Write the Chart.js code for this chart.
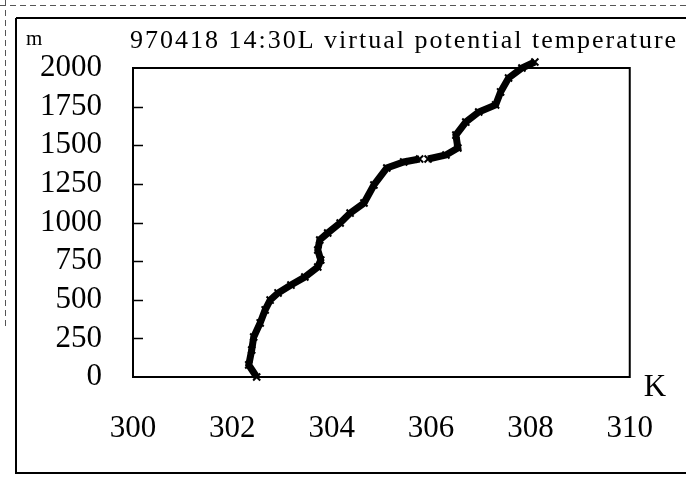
<!DOCTYPE html>
<html>
<head>
<meta charset="utf-8">
<script src="https://cdn.jsdelivr.net/npm/chart.js@4/dist/chart.umd.min.js"></script>
<style>
  html, body { margin: 0; padding: 0; background: #fff; }
  #wrap { position: relative; width: 686px; height: 482px; }
  canvas { display: block; }
</style>
</head>
<body>
<div id="wrap"><canvas id="c" width="686" height="482"></canvas></div>
<script>
// ---- data ----
const titleText = "970418 14:30L virtual potential temperature";
const yUnit = "m";
const xUnit = "K";
const xTicks = [300, 302, 304, 306, 308, 310];
const yTicks = [0, 250, 500, 750, 1000, 1250, 1500, 1750, 2000];
// virtual potential temperature (K); null marks the small gap in the trace
const thetaV = [302.49, 302.33, 302.39, 302.43, 302.56, 302.66, 302.76, 302.92, 303.18, 303.46,
                303.72, 303.78, 303.72, 303.76, 303.92, 304.17, 304.37, 304.65, 304.85, 305.11,
                305.45, 305.77, null, 305.94, 306.30, 306.54, 306.50, 306.70, 306.96, 307.30,
                307.40, 307.56, 307.83, 308.09];
// height (m)
const heightM = [0, 78, 175, 259, 350, 434, 498, 544, 595, 647,
                 712, 757, 822, 887, 932, 997, 1061, 1126, 1243, 1353,
                 1392, 1411, null, 1411, 1437, 1482, 1566, 1650, 1715, 1761,
                 1845, 1935, 2000, 2039];

const points = thetaV.map((t, i) => ({ x: t, y: heightM[i] }));

const SERIF = '"Liberation Serif", "DejaVu Serif", serif';

const decor = {
  id: 'decor',
  beforeDraw(chart) {
    const ctx = chart.ctx;
    ctx.save();
    ctx.fillStyle = '#fff';
    ctx.fillRect(0, 0, chart.width, chart.height);
    // faint scan lines
    ctx.strokeStyle = '#555';
    ctx.lineWidth = 1;
    ctx.setLineDash([6, 4]);
    ctx.beginPath();
    ctx.moveTo(0, 5.5); ctx.lineTo(chart.width, 5.5);
    ctx.moveTo(5.5, 0); ctx.lineTo(5.5, 330);
    ctx.stroke();
    ctx.setLineDash([]);
    // outer frame
    ctx.strokeStyle = '#000';
    ctx.lineWidth = 2;
    ctx.beginPath();
    ctx.moveTo(16, 18); ctx.lineTo(chart.width, 18);
    ctx.moveTo(16, 18); ctx.lineTo(16, 473);
    ctx.lineTo(chart.width, 473);
    ctx.stroke();
    ctx.restore();
  },
  afterDraw(chart) {
    const ctx = chart.ctx;
    const a = chart.chartArea;
    const ys = chart.scales.y;
    ctx.save();
    // plot box
    ctx.strokeStyle = '#000';
    ctx.lineWidth = 2;
    ctx.strokeRect(a.left, a.top, a.right - a.left, a.bottom - a.top);
    // inner tick marks on y axis
    ctx.lineWidth = 1.5;
    ctx.beginPath();
    ys.ticks.forEach(t => {
      if (t.value <= 0 || t.value >= 2000) return;
      const py = Math.round(ys.getPixelForValue(t.value)) + 0.5;
      ctx.moveTo(a.left, py); ctx.lineTo(a.left + 10, py);
    });
    ctx.stroke();
    // title
    ctx.fillStyle = '#000';
    ctx.textBaseline = 'alphabetic';
    ctx.textAlign = 'left';
    ctx.font = '26px ' + SERIF;
    const w = ctx.measureText(titleText).width;
    const target = 546;
    if ('letterSpacing' in ctx) {
      ctx.letterSpacing = Math.max(0, (target - w) / (titleText.length - 1)).toFixed(2) + 'px';
    }
    ctx.fillText(titleText, a.left - 3, 48);
    if ('letterSpacing' in ctx) ctx.letterSpacing = '0px';
    // unit labels
    ctx.font = '21px ' + SERIF;
    ctx.fillText(yUnit, 26, 45);
    ctx.font = '31px ' + SERIF;
    ctx.fillText(xUnit, a.right + 14, 396);
    ctx.restore();
  }
};

new Chart(document.getElementById('c'), {
  type: 'scatter',
  data: {
    datasets: [{
      data: points,
      showLine: true,
      spanGaps: false,
      borderColor: '#000',
      backgroundColor: '#000',
      borderWidth: 7,
      pointStyle: 'crossRot',
      pointRadius: 5,
      pointBorderWidth: 2,
      pointBorderColor: '#000',
      clip: false
    }]
  },
  options: {
    responsive: false,
    devicePixelRatio: 1,
    animation: false,
    layout: { padding: { top: 68, right: 50, left: 0, bottom: 0 } },
    plugins: {
      legend: { display: false },
      title: { display: false },
      tooltip: { enabled: false }
    },
    scales: {
      x: {
        type: 'linear',
        min: 300, max: 310,
        afterBuildTicks(s) { s.ticks = xTicks.map(v => ({ value: v })); },
        afterFit(s) { s.height = 105; },
        grid: { display: false, drawTicks: false },
        border: { display: false },
        ticks: { color: '#000', padding: 33, maxRotation: 0, autoSkip: false,
                 callback: v => String(v), font: { family: SERIF, size: 31 } }
      },
      y: {
        type: 'linear',
        min: 0, max: 2000,
        afterBuildTicks(s) { s.ticks = yTicks.map(v => ({ value: v })); },
        afterFit(s) { s.width = 133; },
        grid: { display: false, drawTicks: false },
        border: { display: false },
        ticks: { color: '#000', padding: 31, autoSkip: false,
                 callback: v => String(v), font: { family: SERIF, size: 31 } }
      }
    }
  },
  plugins: [decor]
});
</script>
</body>
</html>
